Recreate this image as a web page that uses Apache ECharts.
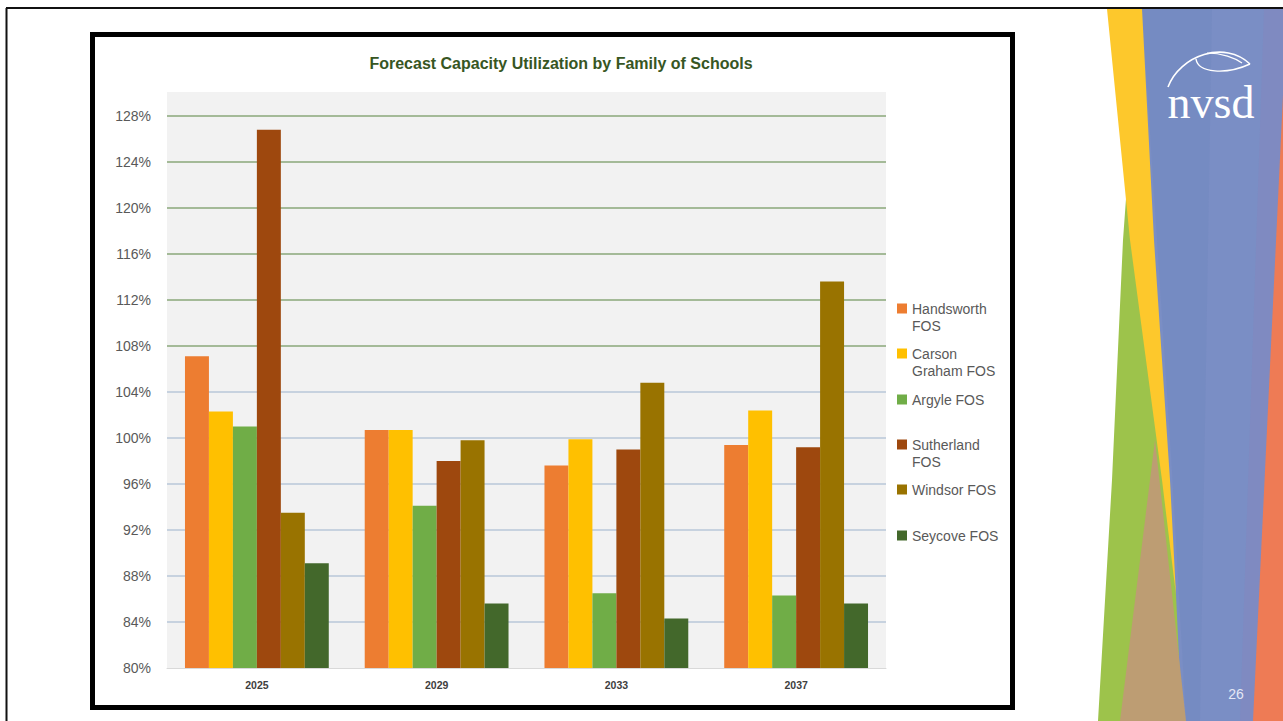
<!DOCTYPE html>
<html>
<head>
<meta charset="utf-8">
<script src="https://cdn.jsdelivr.net/npm/echarts@6/dist/echarts.min.js"></script>
<style>
html,body{margin:0;padding:0;background:#ffffff;}
#chart{width:1283px;height:721px;}
</style>
</head>
<body>
<div id="chart"></div>
<script>
// ---- data ----
const titleText = 'Forecast Capacity Utilization by Family of Schools';
const categories = ['2025', '2029', '2033', '2037'];
const seriesNames = ['Handsworth FOS', 'Carson Graham FOS', 'Argyle FOS', 'Sutherland FOS', 'Windsor FOS', 'Seycove FOS'];
const legendLabels = ['Handsworth\nFOS', 'Carson\nGraham FOS', 'Argyle FOS', 'Sutherland\nFOS', 'Windsor FOS', 'Seycove FOS'];
const handsworth = [107.1, 100.7, 97.6, 99.4];
const carsonGraham = [102.3, 100.7, 99.9, 102.4];
const argyle = [101.0, 94.1, 86.5, 86.3];
const sutherland = [126.8, 98.0, 99.0, 99.2];
const windsor = [93.5, 99.8, 104.8, 113.6];
const seycove = [89.1, 85.6, 84.3, 85.6];
const yMin = 80, yMax = 128, yStep = 4;
const pageNumber = '26';

// ---- styles ----
const seriesColors = ['#ED7D31', '#FFC000', '#70AD47', '#9E480E', '#997300', '#43682B'];
const seriesValues = [handsworth, carsonGraham, argyle, sutherland, windsor, seycove];
const FONT = "'Liberation Sans', Arial, sans-serif";
const blueGrid = '#b9c7d8', greenGrid = '#8aa77a';
const splitColors = ['rgba(0,0,0,0)', blueGrid, blueGrid, blueGrid, blueGrid, blueGrid, blueGrid,
  greenGrid, greenGrid, greenGrid, greenGrid, greenGrid, greenGrid];

const chart = echarts.init(document.getElementById('chart'), null, {renderer: 'svg', width: 1283, height: 721});

const legends = seriesNames.map((name, i) => {
  const twoLine = legendLabels[i].indexOf('\n') >= 0;
  const centerY = 308.5 + 45.3 * i;
  return {
    data: [name],
    left: 897,
    top: Math.round(centerY - (twoLine ? 25.5 : 8.5)),
    orient: 'vertical',
    padding: 0,
    itemWidth: 10,
    itemHeight: 10,
    itemGap: 0,
    icon: 'rect',
    selectedMode: false,
    // a leading blank line keeps the first text line level with the icon
    formatter: () => (twoLine ? ' \n' : '') + legendLabels[i],
    textStyle: {color: '#595959', fontSize: 14, fontFamily: FONT, lineHeight: 17}
  };
});

const decoration = [
  // slide frame lines
  {type: 'line', shape: {x1: 6, y1: 8, x2: 1283, y2: 8}, style: {stroke: '#111', lineWidth: 2}, silent: true},
  {type: 'line', shape: {x1: 6.5, y1: 8, x2: 6.5, y2: 721}, style: {stroke: '#111', lineWidth: 2}, silent: true},
  // plot background
  {type: 'rect', shape: {x: 167, y: 92, width: 719, height: 576}, style: {fill: '#f2f2f2'}, z: -10, silent: true},
  // chart frame
  {type: 'rect', shape: {x: 92.5, y: 34.5, width: 920, height: 673}, style: {fill: 'none', stroke: '#000', lineWidth: 5}, silent: true},
  // right decoration
  {type: 'polygon', shape: {points: [[1135, 9], [1283, 9], [1283, 721], [1170, 721], [1160, 480], [1148, 240]]}, style: {fill: '#7a8ec5'}, silent: true},
  {type: 'polygon', shape: {points: [[1142, 9], [1212, 9], [1200, 721], [1186, 721], [1172, 470]]}, style: {fill: 'rgba(95,120,180,0.14)'}, silent: true},
  {type: 'polygon', shape: {points: [[1264, 9], [1283, 9], [1283, 95], [1253, 721], [1240, 721]]}, style: {fill: 'rgba(140,128,185,0.3)'}, silent: true},
  {type: 'polygon', shape: {points: [[1283, 95], [1283, 721], [1253, 721]]}, style: {fill: '#ee7b55'}, silent: true},
  {type: 'polygon', shape: {points: [[1127, 185], [1140, 240], [1166, 480], [1176, 595], [1182, 721], [1098, 721], [1112, 480], [1123, 240]]}, style: {fill: '#9dc34b'}, silent: true},
  {type: 'polygon', shape: {points: [[1107, 9], [1142, 9], [1154, 240], [1170, 480], [1176, 595], [1162, 480], [1130, 240]]}, style: {fill: '#fdc82c'}, silent: true},
  {type: 'polygon', shape: {points: [[1155, 440], [1186, 721], [1120, 721]]}, style: {fill: '#bd9d73'}, silent: true},
  // logo
  {type: 'bezierCurve', shape: {x1: 1168, y1: 87, cpx1: 1180, cpy1: 55, cpx2: 1225, cpy2: 40, x2: 1250, y2: 64}, style: {stroke: '#fff', lineWidth: 1.6, fill: 'none'}, silent: true},
  {type: 'bezierCurve', shape: {x1: 1196, y1: 59, cpx1: 1198, cpy1: 73, cpx2: 1226, cpy2: 75, x2: 1250, y2: 64}, style: {stroke: '#fff', lineWidth: 1.4, fill: 'none'}, silent: true},
  {type: 'bezierCurve', shape: {x1: 1207, y1: 53, cpx1: 1222, cpy1: 53, cpx2: 1235, cpy2: 58, x2: 1242, y2: 63}, style: {stroke: '#fff', lineWidth: 1.2, fill: 'none'}, silent: true},
  {type: 'text', x: 1211, y: 102, style: {text: 'nvsd', fill: '#ffffff', font: "46px 'Liberation Serif', serif", align: 'center', verticalAlign: 'middle'}, silent: true},
  {type: 'text', x: 1236, y: 694, style: {text: pageNumber, fill: '#e4e7f5', font: "14px 'Liberation Sans', sans-serif", align: 'center', verticalAlign: 'middle'}, silent: true}
];

const option = {
  animation: false,
  backgroundColor: '#ffffff',
  title: {
    text: titleText,
    left: 561,
    top: 55,
    padding: 0,
    textAlign: 'center',
    textStyle: {color: '#375623', fontSize: 16, fontWeight: 'bold', fontFamily: FONT}
  },
  legend: legends,
  grid: {left: 167, right: 397, top: 116, bottom: 53, containLabel: false},
  xAxis: {
    type: 'category',
    data: categories,
    axisLine: {show: true, lineStyle: {color: '#d9d9d9', width: 1}},
    axisTick: {show: false},
    axisLabel: {color: '#404040', fontSize: 10.5, fontWeight: 'bold', fontFamily: FONT, margin: 11},
    splitLine: {show: false}
  },
  yAxis: {
    type: 'value',
    min: yMin, max: yMax, interval: yStep,
    axisLine: {show: false},
    axisTick: {show: false},
    axisLabel: {color: '#595959', fontSize: 14, fontFamily: FONT, margin: 16, formatter: '{value}%'},
    splitLine: {show: true, lineStyle: {color: splitColors, width: 1.6}}
  },
  series: seriesNames.map((name, i) => ({
    name: name,
    type: 'bar',
    data: seriesValues[i],
    barGap: '0%',
    barCategoryGap: '20%',
    itemStyle: {color: seriesColors[i]},
    emphasis: {disabled: true}
  })),
  graphic: {elements: decoration}
};
chart.setOption(option);
</script>
</body>
</html>
